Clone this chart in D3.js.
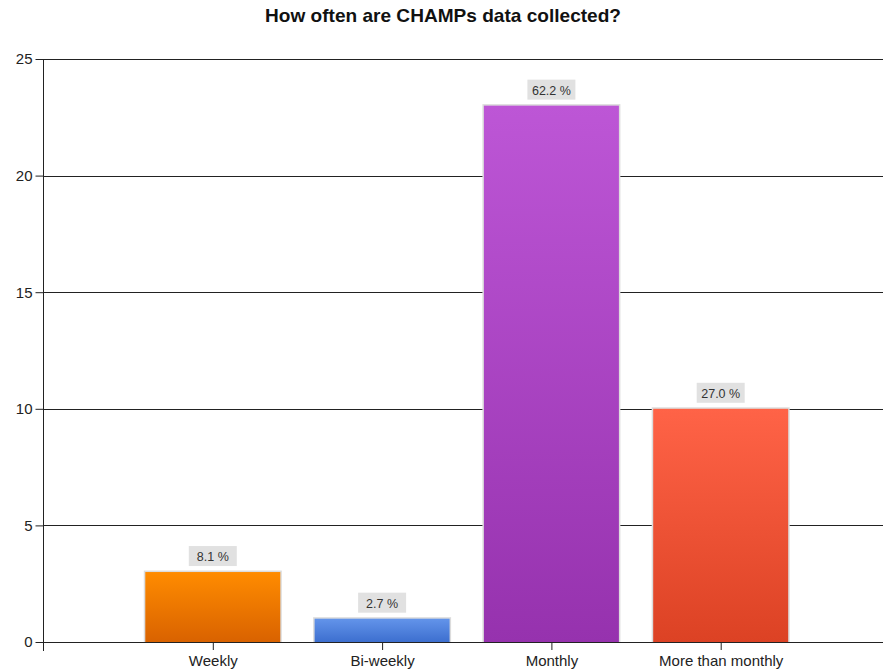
<!DOCTYPE html>
<html>
<head>
<meta charset="utf-8">
<script src="https://cdn.jsdelivr.net/npm/d3@7"></script>
<style>
  html, body { margin: 0; padding: 0; background: #fff; }
  svg { display: block; }
  text { font-family: "Liberation Sans", Arial, sans-serif; }
</style>
</head>
<body>
<svg id="chart" width="883" height="672"></svg>
<script>
// Survey responses: how often CHAMPs data are collected
const categories = ["Weekly", "Bi-weekly", "Monthly", "More than monthly"];
const counts = [3, 1, 23, 10];
const percentLabels = ["8.1 %", "2.7 %", "62.2 %", "27.0 %"];
const yTicks = [0, 5, 10, 15, 20, 25];
const barColors = [
  ["#ff8c00", "#d96200"],
  ["#6394ea", "#3d6fcf"],
  ["#bd56d6", "#9632ae"],
  ["#ff6347", "#dc4224"]
];
const title = "How often are CHAMPs data collected?";

const W = 883, H = 672;
const left = 43.5, zeroY = 642, topY = 59;
const svg = d3.select("#chart");

const x = d3.scaleLinear().domain([0, categories.length + 1]).range([left, left + 169.3 * 5]);
const y = d3.scaleLinear().domain([0, 25]).range([zeroY, topY]);
const barW = 135;

// gradients for bar fills
const defs = svg.append("defs");
barColors.forEach((c, i) => {
  const g = defs.append("linearGradient").attr("id", "grad" + i)
    .attr("x1", 0).attr("y1", 0).attr("x2", 0).attr("y2", 1);
  g.append("stop").attr("offset", "0%").attr("stop-color", c[0]);
  g.append("stop").attr("offset", "100%").attr("stop-color", c[1]);
});

// title
svg.append("text")
  .attr("x", 443).attr("y", 22)
  .attr("text-anchor", "middle")
  .attr("font-size", 18.5).attr("font-weight", "bold").attr("fill", "#111")
  .attr("textLength", 356).attr("lengthAdjust", "spacingAndGlyphs")
  .text(title);

// horizontal grid lines
svg.append("g").selectAll("line").data(yTicks.filter(d => d > 0)).join("line")
  .attr("x1", left).attr("x2", W)
  .attr("y1", d => Math.round(y(d)) + 0.5).attr("y2", d => Math.round(y(d)) + 0.5)
  .attr("stroke", "#222").attr("stroke-width", 1);

// y axis
const yAxis = d3.axisLeft(y).tickValues(yTicks).tickSize(8).tickPadding(3);
const gy = svg.append("g").attr("transform", `translate(${left},0)`).call(yAxis);
gy.select(".domain").remove();
gy.selectAll(".tick line").attr("stroke", "#222");
gy.selectAll(".tick text").attr("font-size", 15).attr("fill", "#222")
  .attr("font-family", "'Liberation Sans', Arial, sans-serif");
svg.append("line")
  .attr("x1", left).attr("x2", left).attr("y1", topY).attr("y2", zeroY + 9)
  .attr("stroke", "#222");

// bars
const bars = svg.append("g");
categories.forEach((cat, i) => {
  const cx = x(i + 1);
  const yt = y(counts[i]);
  bars.append("rect")
    .attr("x", cx - barW / 2 - 1.5).attr("y", yt - 1.5)
    .attr("width", barW + 3).attr("height", zeroY - yt + 1.5)
    .attr("fill", "#dcdcdc");
  bars.append("rect")
    .attr("x", cx - barW / 2).attr("y", yt)
    .attr("width", barW).attr("height", zeroY - yt)
    .attr("fill", `url(#grad${i})`);
  // value label box
  const lbl = bars.append("g").attr("transform", `translate(${cx},${yt - 6})`);
  lbl.append("rect")
    .attr("x", -24).attr("y", -20)
    .attr("width", 48).attr("height", 20)
    .attr("fill", "#e1e1e1");
  lbl.append("text")
    .attr("x", 0).attr("y", -5)
    .attr("text-anchor", "middle")
    .attr("font-size", 12.5).attr("fill", "#333")
    .text(percentLabels[i]);
});

// x axis
const xAxis = d3.axisBottom(x).tickValues(d3.range(1, categories.length + 1))
  .tickFormat(d => categories[d - 1]).tickSize(8).tickPadding(5).tickSizeOuter(0);
const gx = svg.append("g").attr("transform", `translate(0,${zeroY})`).call(xAxis);
gx.select(".domain").attr("d", `M${left},0.5H${W}`).attr("stroke", "#222");
gx.selectAll(".tick line").attr("stroke", "#222");
gx.selectAll(".tick text").attr("font-size", 15).attr("fill", "#222")
  .attr("font-family", "'Liberation Sans', Arial, sans-serif");
</script>
</body>
</html>
